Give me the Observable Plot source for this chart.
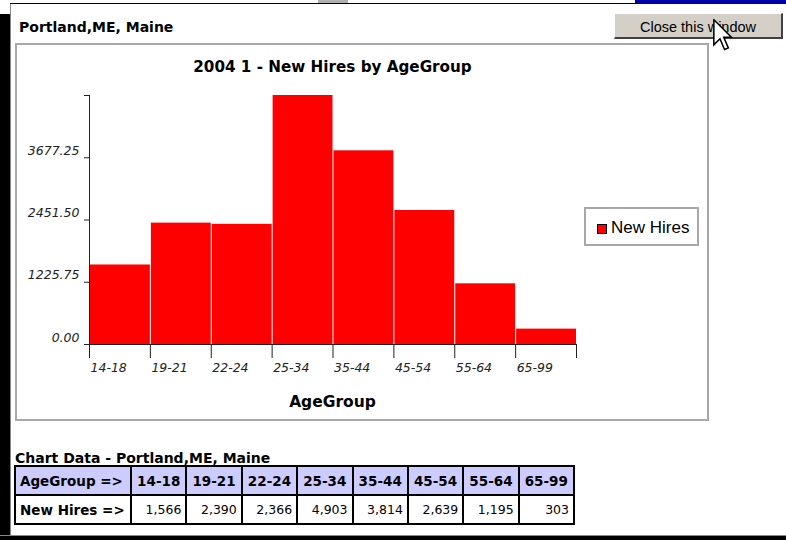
<!DOCTYPE html>
<html>
<head>
<meta charset="utf-8">
<script src="https://cdn.jsdelivr.net/npm/d3@7"></script>
<script src="https://cdn.jsdelivr.net/npm/@observablehq/plot@0.6"></script>
<style>
  html, body { margin: 0; padding: 0; }
  body { width: 786px; height: 540px; overflow: hidden; position: relative; background: #fff; font-family: "DejaVu Sans", sans-serif; }
  .abs { position: absolute; }
  #wintitle { left: 19px; top: 19px; font: bold 14px/16px "DejaVu Sans"; color: #000; white-space: nowrap; }
  #btn { left: 614px; top: 13px; width: 166px; height: 21px; padding-top: 2px; background: #d4d0c8;
         border-top: 1px solid #fff; border-left: 1px solid #fff; border-right: 2px solid #404040; border-bottom: 2px solid #404040;
         font: 14.5px/23px "Liberation Sans"; text-align: center; color: #000; }
  #panel { left: 15px; top: 43px; width: 690px; height: 374px; border: 2px solid #a8a8a8; }
  #chartTitle { left: 89px; width: 487px; top: 58px; text-align: center; font: bold 15.2px/18px "DejaVu Sans"; color: #000; }
  #xLabel { left: 89px; width: 487px; top: 393px; text-align: center; font: bold 15.5px/18px "DejaVu Sans"; color: #000; }
  #legend { left: 584px; top: 207px; width: 111px; height: 35px; border: 2px solid #a8a8a8; background: #fff; }
  #legend .sw { position: absolute; left: 11px; top: 15px; width: 8px; height: 8px; background: #ff0000; border: 1px solid #000; }
  #legend .lt { position: absolute; left: 25px; top: 9px; font: 17px/20px "Liberation Sans"; color: #000; white-space: nowrap; }
  #caption { left: 15px; top: 450px; font: bold 14px/16px "DejaVu Sans"; color: #000; white-space: nowrap; }
  #tbl { left: 14px; top: 465px; border-collapse: collapse; border: 2px solid #000; width: 561px; table-layout: fixed; }
  #tbl td { border: 2px solid #000; height: 27px; padding: 0 4px; font: 12.5px "DejaVu Sans"; color: #000; white-space: nowrap; }
  #tbl tr.h td { background: #ccccff; font-weight: bold; font-size: 13.5px; text-align: center; }
  #tbl tr.d td { text-align: right; }
  #tbl tr.d td.first { font-weight: bold; font-size: 13.5px; text-align: left; }
  #tbl tr.h td.first { text-align: left; }
</style>
</head>
<body>
<div class="abs" style="left:0;top:0;width:786px;height:3px;background:#fff"></div>
<div class="abs" style="left:635px;top:0;width:151px;height:3px;background:#0000a8"></div>
<div class="abs" style="left:318px;top:0;width:30px;height:3px;background:#b0b0b0"></div>
<div class="abs" style="left:10px;top:3px;width:776px;height:1px;background:#000"></div>
<div class="abs" style="left:0;top:14px;width:10px;height:526px;background:#000"></div>
<div class="abs" style="left:10px;top:4px;width:1px;height:532px;background:#888"></div>
<div class="abs" style="left:0;top:535px;width:786px;height:1px;background:#888"></div>
<div class="abs" style="left:0;top:536px;width:786px;height:4px;background:#000"></div>

<div id="wintitle" class="abs"></div>
<div id="btn" class="abs">Close this window</div>
<div id="panel" class="abs"></div>
<div id="chart" class="abs" style="left:17px;top:45px;"></div>
<div id="chartTitle" class="abs"></div>
<div id="xLabel" class="abs"></div>
<div id="legend" class="abs"><div class="sw"></div><div class="lt"></div></div>
<div id="caption" class="abs"></div>
<table id="tbl" class="abs"></table>
<svg class="abs" style="left:713px;top:19px" width="20" height="32" viewBox="0 0 13 21">
  <path d="M0.5,0.5 L0.5,17 L4.5,13 L7.5,20 L10,19 L7,12 L12,12 Z" fill="#fff" stroke="#000" stroke-width="1"/>
</svg>

<script>
const place = "Portland,ME, Maine";
const chartTitle = "2004 1 - New Hires by AgeGroup";
const xTitle = "AgeGroup";
const seriesName = "New Hires";
const categories = ["14-18", "19-21", "22-24", "25-34", "35-44", "45-54", "55-64", "65-99"];
const newHires = [1566, 2390, 2366, 4903, 3814, 2639, 1195, 303];
const yTicks = [0, 1225.75, 2451.50, 3677.25, 4903];
const tableValues = ["1,566", "2,390", "2,366", "4,903", "3,814", "2,639", "1,195", "303"];

document.getElementById("wintitle").textContent = place;
document.getElementById("chartTitle").textContent = chartTitle;
document.getElementById("xLabel").textContent = xTitle;
document.querySelector("#legend .lt").textContent = seriesName;
document.getElementById("caption").textContent = "Chart Data - " + place;

const rows = categories.map((c, i) => ({cat: c, i0: i, i1: i + 1, value: newHires[i]}));
const yMax = yTicks[yTicks.length - 1];
const xTicks = d3.range(categories.length + 1);

const chart = Plot.plot({
  width: 689,
  height: 373,
  marginLeft: 72,
  marginRight: 130,
  marginTop: 50,
  marginBottom: 74,
  style: {fontFamily: "DejaVu Sans", fontSize: "12.5px", color: "#222", background: "transparent", overflow: "visible"},
  x: {type: "linear", domain: [0, categories.length], label: null},
  y: {domain: [0, yMax], label: null},
  marks: [
    Plot.rectY(rows, {x1: "i0", x2: "i1", y: "value", fill: "#ff0000", insetLeft: 1}),
    Plot.ruleY([0], {stroke: "#222"}),
    Plot.ruleX([0], {stroke: "#222"}),
    Plot.axisY({ticks: yTicks, tickSize: 5, tickFormat: () => "", label: null}),
    Plot.axisY({ticks: yTicks, tickSize: 0, tickPadding: 10, dy: -7, fontStyle: "italic",
      tickFormat: d => d === yMax ? "" : d.toFixed(2), label: null}),
    Plot.axisX({ticks: xTicks, tickSize: 14, tickFormat: () => "", label: null}),
    Plot.axisX({ticks: xTicks, tickSize: 0, tickPadding: 19, dx: 1,
      textAnchor: "start", fontStyle: "italic", tickFormat: d => categories[d] ?? "", label: null})
  ]
});
document.getElementById("chart").appendChild(chart);

const tbl = document.getElementById("tbl");
const colg = document.createElement("colgroup");
const c0 = document.createElement("col"); c0.style.width = "116px"; colg.appendChild(c0);
categories.forEach(() => { const c = document.createElement("col"); colg.appendChild(c); });
tbl.appendChild(colg);
const hr = document.createElement("tr"); hr.className = "h";
const h0 = document.createElement("td"); h0.className = "first"; h0.textContent = xTitle + " =>"; hr.appendChild(h0);
categories.forEach(c => { const td = document.createElement("td"); td.textContent = c; hr.appendChild(td); });
tbl.appendChild(hr);
const dr = document.createElement("tr"); dr.className = "d";
const d0 = document.createElement("td"); d0.className = "first"; d0.textContent = seriesName + " =>"; dr.appendChild(d0);
tableValues.forEach(v => { const td = document.createElement("td"); td.textContent = v; dr.appendChild(td); });
tbl.appendChild(dr);
</script>
</body>
</html>
